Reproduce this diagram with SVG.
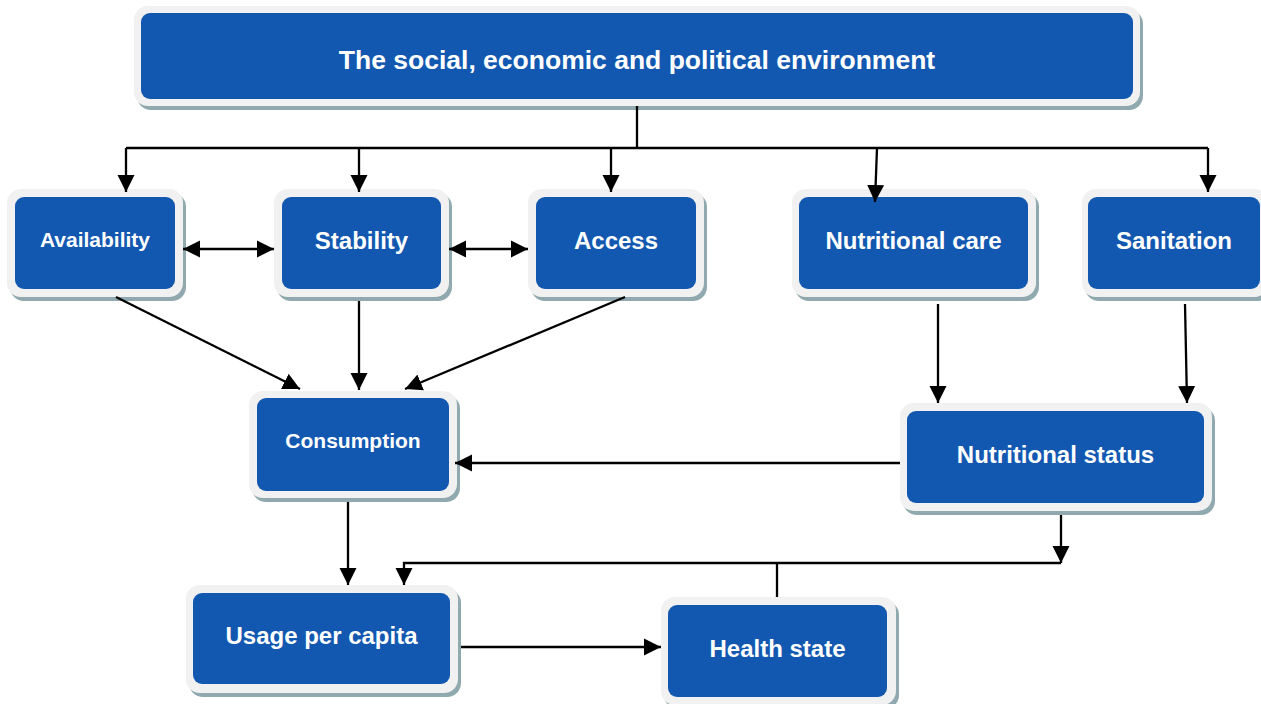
<svg xmlns="http://www.w3.org/2000/svg" width="1261" height="704" viewBox="0 0 1261 704">
  <defs>
    <marker id="arr" markerUnits="userSpaceOnUse" markerWidth="20" markerHeight="20" refX="17" refY="9" orient="auto-start-reverse">
      <path d="M0,0.5 L17,9 L0,17.5 z" fill="#000"/>
    </marker>
    <style>
      .sh { fill: #8fa9ae; }
      .out { fill: #f1f1f1; }
      .in { fill: #1257b0; }
      .t { font-family: "Liberation Sans", Arial, sans-serif; font-weight: bold; fill: #ffffff; text-anchor: middle; font-size: 24px; }
      .c { fill: none; stroke: #000; stroke-width: 2.3; }
      .a { marker-end: url(#arr); }
      .d { marker-start: url(#arr); marker-end: url(#arr); }
    </style>
  </defs>
  <rect width="1261" height="704" fill="#ffffff"/>

  <g id="n-environment">
    <rect class="sh" x="137" y="10" width="1006" height="100" rx="14"/>
    <rect class="out" x="134" y="6" width="1006" height="100" rx="14"/>
    <rect class="in" x="141" y="13" width="992" height="86" rx="9"/>
    <text class="t" x="637" y="68.5" style="font-size:26.5px">The social, economic and political environment</text>
  </g>

  <g id="n-availability">
    <rect class="sh" x="10" y="193" width="176" height="108" rx="14"/>
    <rect class="out" x="7" y="189" width="176" height="108" rx="14"/>
    <rect class="in" x="15" y="197" width="160" height="92" rx="9"/>
    <text class="t" x="95" y="247" style="font-size:21px">Availability</text>
  </g>

  <g id="n-stability">
    <rect class="sh" x="277" y="193" width="175" height="108" rx="14"/>
    <rect class="out" x="274" y="189" width="175" height="108" rx="14"/>
    <rect class="in" x="282" y="197" width="159" height="92" rx="9"/>
    <text class="t" x="361.5" y="249">Stability</text>
  </g>

  <g id="n-access">
    <rect class="sh" x="531" y="193" width="176" height="108" rx="14"/>
    <rect class="out" x="528" y="189" width="176" height="108" rx="14"/>
    <rect class="in" x="536" y="197" width="160" height="92" rx="9"/>
    <text class="t" x="616" y="249">Access</text>
  </g>

  <g id="n-nutritional-care">
    <rect class="sh" x="795" y="193" width="244" height="108" rx="14"/>
    <rect class="out" x="792" y="189" width="244" height="108" rx="14"/>
    <rect class="in" x="799" y="197" width="229" height="92" rx="9"/>
    <text class="t" x="913.5" y="249">Nutritional care</text>
  </g>

  <g id="n-sanitation">
    <rect class="sh" x="1085" y="193" width="186" height="108" rx="14"/>
    <rect class="out" x="1082" y="189" width="186" height="108" rx="14"/>
    <rect class="in" x="1088" y="197" width="172" height="92" rx="9"/>
    <text class="t" x="1174" y="249">Sanitation</text>
  </g>

  <g id="n-consumption">
    <rect class="sh" x="252" y="395" width="208" height="107" rx="14"/>
    <rect class="out" x="249" y="391" width="208" height="107" rx="14"/>
    <rect class="in" x="257" y="398" width="192" height="93" rx="9"/>
    <text class="t" x="353" y="448" style="font-size:21px">Consumption</text>
  </g>

  <g id="n-nutritional-status">
    <rect class="sh" x="903" y="407" width="312" height="108" rx="14"/>
    <rect class="out" x="900" y="403" width="312" height="108" rx="14"/>
    <rect class="in" x="907" y="411" width="297" height="92" rx="9"/>
    <text class="t" x="1055.5" y="463">Nutritional status</text>
  </g>

  <g id="n-usage">
    <rect class="sh" x="189" y="589" width="272" height="108" rx="14"/>
    <rect class="out" x="186" y="585" width="272" height="108" rx="14"/>
    <rect class="in" x="193" y="593" width="257" height="91" rx="9"/>
    <text class="t" x="321.5" y="644">Usage per capita</text>
  </g>

  <g id="n-health">
    <rect class="sh" x="664" y="601" width="235" height="108" rx="14"/>
    <rect class="out" x="661" y="597" width="235" height="108" rx="14"/>
    <rect class="in" x="668" y="605" width="219" height="92" rx="9"/>
    <text class="t" x="777.5" y="657">Health state</text>
  </g>

  <g id="connectors">
    <path class="c" d="M637,106 V148" stroke-width="1.6"/>
    <path class="c" d="M126,148 H1208"/>
    <path class="c a" d="M126,148 V192"/>
    <path class="c a" d="M359,148 V192"/>
    <path class="c a" d="M611,148 V192"/>
    <path class="c a" d="M877,148 L875,202"/>
    <path class="c a" d="M1208,148 V192"/>
    <path class="c d" d="M183,249 H274"/>
    <path class="c d" d="M449,249 H528"/>
    <path class="c a" d="M116,297 L300,389"/>
    <path class="c a" d="M359,301 V390"/>
    <path class="c a" d="M625,297 L405,389"/>
    <path class="c a" d="M938,304 V403"/>
    <path class="c a" d="M1185,304 L1187,403"/>
    <path class="c a" d="M900,463 H455"/>
    <path class="c a" d="M348,502 V585"/>
    <path class="c a" d="M1061,515 V563"/>
    <path class="c a" d="M1061,563 H404 V585"/>
    <path class="c" d="M777,563 V597" stroke-width="1.6"/>
    <path class="c a" d="M461,647 H661"/>
  </g>
</svg>
